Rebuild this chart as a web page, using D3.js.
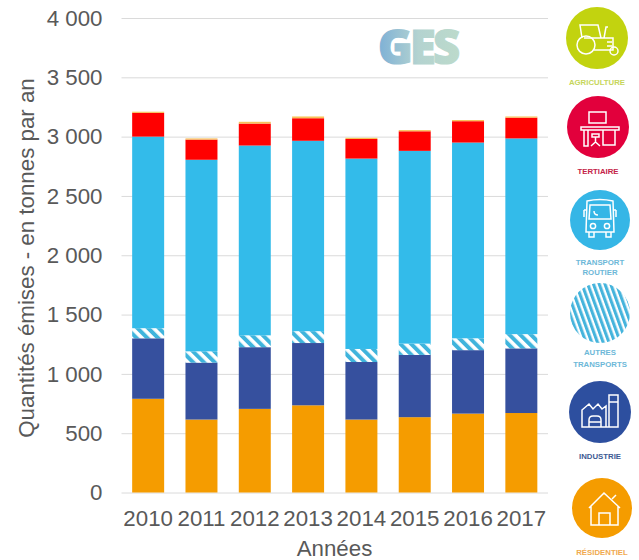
<!DOCTYPE html>
<html lang="fr">
<head>
<meta charset="utf-8">
<title>Émissions de GES par secteur</title>
<script src="https://cdn.jsdelivr.net/npm/d3@7/dist/d3.min.js"></script>
<style>
  html, body { margin: 0; padding: 0; background: #fff; }
  svg { display: block; }
  text { font-family: "Liberation Sans", Arial, sans-serif; }
</style>
</head>
<body>
<svg id="chart" width="639" height="560"></svg>
<script>
// Emissions per sector, in tonnes per year
const years = ["2010", "2011", "2012", "2013", "2014", "2015", "2016", "2017"];
const residentiel = [790, 615, 705, 735, 615, 635, 665, 670];
const industrie = [510, 480, 520, 525, 485, 525, 535, 545];
const autresTransports = [85, 95, 100, 100, 110, 95, 100, 120];
const transportRoutier = [1615, 1615, 1600, 1605, 1605, 1625, 1650, 1650];
const tertiaire = [200, 170, 185, 190, 165, 165, 180, 175];
const agriculture = [10, 10, 15, 15, 10, 10, 10, 10];
const yTicks = [0, 500, 1000, 1500, 2000, 2500, 3000, 3500, 4000];

const sectors = [
  { key: "residentiel", values: residentiel, fill: "#f59c00" },
  { key: "industrie", values: industrie, fill: "#36509e" },
  { key: "autres", values: autresTransports, fill: "url(#stripes)" },
  { key: "routier", values: transportRoutier, fill: "#33bbea" },
  { key: "tertiaire", values: tertiaire, fill: "#ff0000" },
  { key: "agriculture", values: agriculture, fill: "#f7c25a" }
];

const svg = d3.select("#chart");
const defs = svg.append("defs");

// Hatching for the "autres transports" segments
const hatch = defs.append("pattern")
  .attr("id", "stripes").attr("patternUnits", "userSpaceOnUse")
  .attr("width", 7.6).attr("height", 7.6)
  .attr("patternTransform", "rotate(-45)");
hatch.append("rect").attr("width", 7.6).attr("height", 7.6).attr("fill", "#ffffff");
hatch.append("rect").attr("width", 4).attr("height", 7.6).attr("fill", "#3fb4dc");

const legendHatch = defs.append("pattern")
  .attr("id", "legendStripes").attr("patternUnits", "userSpaceOnUse")
  .attr("width", 5.4).attr("height", 5.4)
  .attr("patternTransform", "rotate(-20)");
legendHatch.append("rect").attr("width", 5.4).attr("height", 5.4).attr("fill", "#ffffff");
legendHatch.append("rect").attr("width", 3.1).attr("height", 5.4).attr("fill", "#45b4dc");

const gesGradient = defs.append("linearGradient").attr("id", "gesFill");
gesGradient.append("stop").attr("offset", "0%").attr("stop-color", "#7db0d6");
gesGradient.append("stop").attr("offset", "50%").attr("stop-color", "#b4d3d0");
gesGradient.append("stop").attr("offset", "100%").attr("stop-color", "#bcdacb");

// Scales
const x = d3.scaleBand().domain(years).range([121.5, 548]).paddingInner(0.4).paddingOuter(0.2);
const y = d3.scaleLinear().domain([0, 4000]).range([492.5, 18]);

// Value axis: labels plus full-width light gridlines
const yAxis = svg.append("g")
  .attr("transform", "translate(121.5,0)")
  .call(d3.axisLeft(y).tickValues(yTicks).tickSize(0).tickPadding(19)
    .tickFormat(d => d3.format(",")(d).replace(",", " ")));
yAxis.select(".domain").remove();
yAxis.selectAll("text").attr("font-size", 22.3).attr("fill", "#595959");

svg.append("g").selectAll("line").data(yTicks).join("line")
  .attr("x1", 121.5).attr("x2", 548)
  .attr("y1", d => y(d) + 0.5).attr("y2", d => y(d) + 0.5)
  .attr("stroke", "#dadada").attr("stroke-width", 1);

// Stacked bars
const rows = years.map((year, i) => {
  const row = { year };
  sectors.forEach(s => { row[s.key] = s.values[i]; });
  return row;
});
const stacked = d3.stack().keys(sectors.map(s => s.key))(rows);
svg.append("g").selectAll("g").data(stacked).join("g")
  .attr("fill", (d, i) => sectors[i].fill)
  .selectAll("rect").data(d => d).join("rect")
  .attr("x", d => x(d.data.year))
  .attr("width", x.bandwidth())
  .attr("y", d => y(d[1]))
  .attr("height", d => y(d[0]) - y(d[1]));

// Category axis
const xAxis = svg.append("g")
  .attr("transform", "translate(0,492.5)")
  .call(d3.axisBottom(x).tickSize(0).tickPadding(17.7));
xAxis.select(".domain").remove();
xAxis.selectAll("text").attr("font-size", 22.3).attr("fill", "#595959");

// Axis titles
svg.append("text").attr("x", 334.5).attr("y", 556)
  .attr("text-anchor", "middle").attr("font-size", 22.3).attr("fill", "#595959")
  .text("Années");
svg.append("text")
  .attr("transform", "translate(34,258) rotate(-90)")
  .attr("text-anchor", "middle").attr("font-size", 22.3).attr("fill", "#595959")
  .text("Quantités émises - en tonnes par an");

// Pollutant title
svg.append("text").attr("x", 378).attr("y", 64)
  .style("font-family", "'Open Sans', sans-serif")
  .attr("font-weight", 800).attr("font-size", 47).attr("letter-spacing", -2.8)
  .attr("fill", "url(#gesFill)").attr("stroke", "url(#gesFill)").attr("stroke-width", 1.2)
  .text("GES");

// Sector badges, right-hand column
const badges = [
  { cx: 597, cy: 38, r: 31, fill: "#c2d30f", color: "#c6d65a", labels: ["AGRICULTURE"], ly: [85], icon: "tractor" },
  { cx: 598, cy: 127, r: 31, fill: "#e2003c", color: "#c42348", labels: ["TERTIAIRE"], ly: [174], icon: "desk" },
  { cx: 600, cy: 220, r: 30, fill: "#35b6e6", color: "#6db8d8", labels: ["TRANSPORT", "ROUTIER"], ly: [265, 275], icon: "bus" },
  { cx: 600, cy: 313, r: 30, fill: "url(#legendStripes)", color: "#6db8d8", labels: ["AUTRES", "TRANSPORTS"], ly: [355, 367], icon: null },
  { cx: 600, cy: 412, r: 31, fill: "#2d4f9f", color: "#3d5a93", labels: ["INDUSTRIE"], ly: [459], icon: "factory" },
  { cx: 602, cy: 508, r: 30, fill: "#f59c00", color: "#f0aa50", labels: ["RÉSIDENTIEL"], ly: [555], icon: "house" }
];

const icons = {
  tractor: g => {
    g.append("path").attr("d", "M-15,0 L-17,-13 L1,-13 L4,0 M-13,0 L16,0 L16,12 L11,12 M-3,12 L11,12 M7,0 L9,-11 L11,-11 M10,4 L15,4 M10,8 L15,8");
    g.append("circle").attr("cx", -11).attr("cy", 7).attr("r", 9);
    g.append("circle").attr("cx", 17).attr("cy", 13).attr("r", 4);
  },
  desk: g => {
    g.append("rect").attr("x", -9).attr("y", -15).attr("width", 17).attr("height", 11);
    g.append("path").attr("d", "M-17,0 L21,0 L21,3 L-17,3 Z M-14,3 L-14,19 L-10,19 L-10,3 M5,3 L5,18 L17,18 L17,3 M-6,7 L1,7 L1,10 L-6,10 Z M-2.5,10 L-2.5,16 M-7,19 L-2.5,15 L2,19");
  },
  bus: g => {
    g.append("path").attr("d", "M-13,-19 Q0,-22 13,-19 L14,12 L-14,12 Z M-10,-15 L10,-15 L11,-1 L-11,-1 Z M-16,-10 L-14,-10 M16,-10 L14,-10 M-16,-10 L-16,-3 M16,-10 L16,-3 M-11,12 L-11,17 L-6,17 L-6,12 M11,12 L11,17 L6,17 L6,12 M-6,-9 Q-6,-5 -2,-5");
    g.append("circle").attr("cx", -7).attr("cy", 6).attr("r", 2.6);
    g.append("circle").attr("cx", 7).attr("cy", 6).attr("r", 2.6);
  },
  factory: g => {
    g.append("path").attr("d", "M-18,15 L-18,-2 L-11,-8 L-7,-3 L-2,-8 L2,-3 L6,-6 L6,15 Z M-11,15 L-11,8 Q-11,4 -7,4 L-3,4 Q1,4 1,8 L1,15 M-11,10 L1,10 M9,15 L9,-17 L18,-17 L18,15 Z M6,15 L9,15 M9,-10 L18,-10");
  },
  house: g => {
    g.append("path").attr("d", "M-13,0 L2,-15 L18,0 M-11,-2 L-11,17 L16,17 L16,-2 M-3,17 L-3,5 L8,5 L8,17 M10,-9 L14,-13");
  }
};

const badge = svg.append("g").selectAll("g").data(badges).join("g");
badge.append("circle")
  .attr("cx", d => d.cx).attr("cy", d => d.cy).attr("r", d => d.r)
  .attr("fill", d => d.fill);
badge.filter(d => d.icon).append("g")
  .attr("transform", d => `translate(${d.cx},${d.cy})`)
  .attr("fill", "none").attr("stroke", "#ffffff").attr("stroke-width", 1.5)
  .each(function (d) { icons[d.icon](d3.select(this)); });
badge.each(function (d) {
  d3.select(this).selectAll("text.lab").data(d.labels).join("text")
    .attr("class", "lab")
    .attr("x", d.cx).attr("y", (t, i) => d.ly[i])
    .attr("text-anchor", "middle").attr("font-size", 7.8).attr("font-weight", 700)
    .attr("fill", d.color).text(t => t);
});
</script>
</body>
</html>
